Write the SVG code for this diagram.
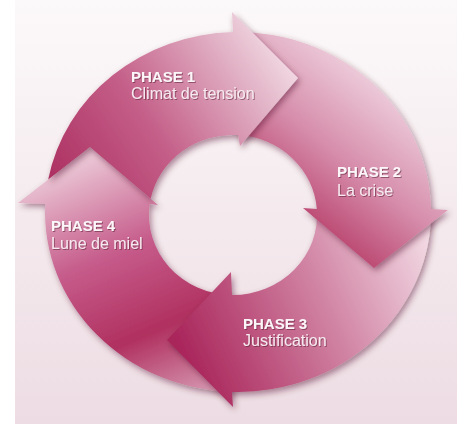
<svg xmlns="http://www.w3.org/2000/svg" width="463" height="424" viewBox="0 0 463 424">
<defs>
  <linearGradient id="bg" x1="0" y1="0" x2="0" y2="1">
    <stop offset="0" stop-color="#fcf9fa"/>
    <stop offset="1" stop-color="#eddce3"/>
  </linearGradient>
  <linearGradient id="g1" gradientUnits="userSpaceOnUse" x1="45" y1="215" x2="295" y2="45">
    <stop offset="0" stop-color="#a72659"/>
    <stop offset="0.45" stop-color="#c45e88"/>
    <stop offset="0.8" stop-color="#e2b3c6"/>
    <stop offset="1" stop-color="#f6e4ec"/>
  </linearGradient>
  <linearGradient id="g2" gradientUnits="userSpaceOnUse" x1="430" y1="110" x2="315" y2="255">
    <stop offset="0" stop-color="#f0d4e0"/>
    <stop offset="0.5" stop-color="#d68dab"/>
    <stop offset="1" stop-color="#b3325f"/>
  </linearGradient>
  <linearGradient id="g3" gradientUnits="userSpaceOnUse" x1="430" y1="235" x2="180" y2="350">
    <stop offset="0" stop-color="#f3dbe5"/>
    <stop offset="0.45" stop-color="#d184a4"/>
    <stop offset="1" stop-color="#a9255a"/>
  </linearGradient>
  <linearGradient id="g4" gradientUnits="userSpaceOnUse" x1="200" y1="400" x2="95" y2="150">
    <stop offset="0" stop-color="#d89cb5"/>
    <stop offset="0.3" stop-color="#b0305f"/>
    <stop offset="0.62" stop-color="#c65c8b"/>
    <stop offset="1" stop-color="#eccad8"/>
  </linearGradient>
  <filter id="sh" x="-20%" y="-20%" width="140%" height="140%">
    <feDropShadow dx="2" dy="3" stdDeviation="3" flood-color="#4a0c28" flood-opacity="0.45"/>
  </filter>
  <filter id="ts" x="-10%" y="-30%" width="120%" height="160%">
    <feDropShadow dx="1" dy="1" stdDeviation="0.6" flood-color="#5a1a38" flood-opacity="0.55"/>
  </filter>
</defs>
<style>
  .arrow { filter: url(#sh); }
  .lbl { font-family: "Liberation Sans", Arial, sans-serif; filter: url(#ts); }
  .ph { font-weight: bold; font-size: 15px; fill: #fcf6f9; }
  .sub { font-size: 16px; fill: #f7e9ef; }
</style>
<rect x="0" y="0" width="463" height="424" fill="#ffffff"/>
<rect x="15" y="0" width="442" height="424" fill="url(#bg)"/>

<g id="phase4">
  <path class="arrow" fill="url(#g4)" d="M 232 391.9 A 193 180 0 0 1 45.2 204 L 18 203 L 90 147 L 158 205 L 149.8 204 A 84 80 0 0 0 232 295 Z"/>
  <text class="lbl ph" x="51" y="231">PHASE 4</text>
  <text class="lbl sub" x="51" y="249">Lune de miel</text>
</g>
<g id="phase3">
  <path class="arrow" fill="url(#g3)" d="M 431 209 A 193 180 0 0 1 232 391.9 L 233 407 L 167 340 L 231 272 L 232 295 A 84 80 0 0 0 316.8 209 Z"/>
  <text class="lbl ph" x="243" y="329">PHASE 3</text>
  <text class="lbl sub" x="243" y="346">Justification</text>
</g>
<g id="phase2">
  <path class="arrow" fill="url(#g2)" d="M 233 32.1 A 193 180 0 0 1 431 209 L 448 210 L 374 268 L 303 208 L 316.8 209 A 84 80 0 0 0 238 135.1 Z"/>
  <text class="lbl ph" x="337" y="177">PHASE 2</text>
  <text class="lbl sub" x="337" y="196">La crise</text>
</g>
<g id="phase1">
  <path class="arrow" fill="url(#g1)" d="M 48.2 179.5 L 90 147 L 150.7 198.8 A 84 80 0 0 1 238 135.1 L 240 146 L 298 78 L 232 12 L 233 32.1 A 193 180 0 0 0 48.2 179.5 Z"/>
  <text class="lbl ph" x="131" y="82">PHASE 1</text>
  <text class="lbl sub" x="131" y="99">Climat de tension</text>
</g>
</svg>
